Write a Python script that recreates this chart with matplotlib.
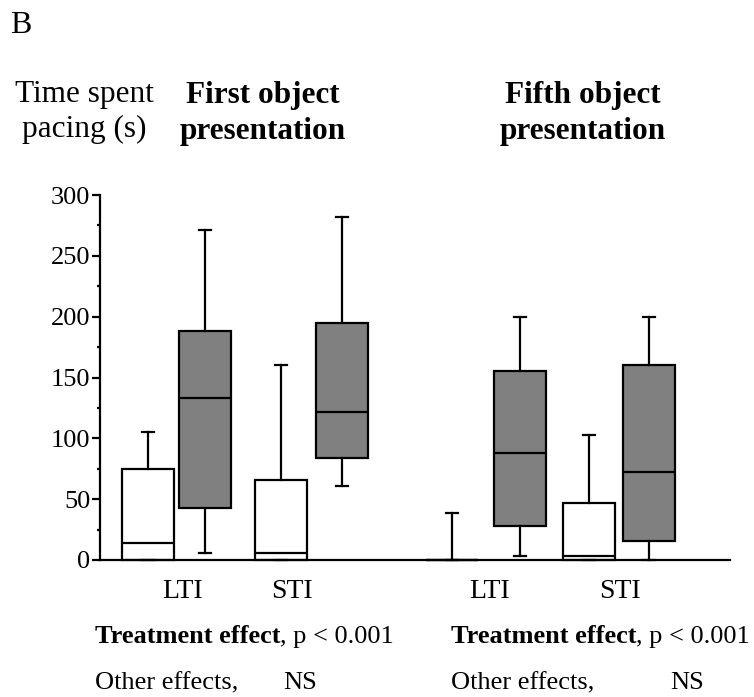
import matplotlib
matplotlib.use('Agg')
import matplotlib.pyplot as plt
from matplotlib.ticker import MultipleLocator

plt.rcParams['font.family'] = ['Liberation Serif', 'DejaVu Serif']

# --------------------------------------------------------
# Data: time spent pacing (s)
# order: first LTI open/filled, first STI open/filled,
#        fifth LTI open/filled, fifth STI open/filled
# --------------------------------------------------------
q1 = [0, 43, 0, 84, 0, 28, 0, 16]
med = [14, 133, 6, 122, 0, 88, 3, 72]
q3 = [75, 188, 66, 195, 0, 155, 47, 160]
whislo = [0, 6, 0, 61, 0, 3, 0, 0]
whishi = [105, 271, 160, 282, 39, 200, 103, 200]
fills = ['white', '#808080'] * 4

group_labels = ['LTI', 'STI', 'LTI', 'STI']
titles = ['First object\npresentation', 'Fifth object\npresentation']

# layout (box centres in box-width units)
positions = [0.92, 2.02, 3.48, 4.65, 6.77, 8.08, 9.40, 10.56]
label_pos = [1.58, 3.69, 7.50, 10.00]

W, H = 754, 697
fig = plt.figure(figsize=(W / 100, H / 100), dpi=100)
ax = fig.add_axes([100 / W, 1 - 560 / H, 630 / W, 365 / H])

stats = []
for i in range(len(med)):
    stats.append(dict(q1=q1[i], med=med[i], q3=q3[i],
                      whislo=whislo[i], whishi=whishi[i]))

lw = 1.6
bp = ax.bxp(stats, positions=positions, widths=1.0, patch_artist=True,
            showfliers=False, capwidths=0.22,
            boxprops=dict(linewidth=lw, edgecolor='black'),
            medianprops=dict(linewidth=lw, color='black'),
            whiskerprops=dict(linewidth=lw, color='black'),
            capprops=dict(linewidth=lw, color='black'))
for patch, c in zip(bp['boxes'], fills):
    patch.set_facecolor(c)
for art in bp['boxes'] + bp['medians'] + bp['whiskers'] + bp['caps']:
    art.set_clip_on(False)

ax.set_xlim(0, 630 / 52)
ax.set_ylim(0, 300)
for s in ['top', 'right']:
    ax.spines[s].set_visible(False)
ax.spines['left'].set_linewidth(lw)
ax.spines['bottom'].set_linewidth(lw)

ax.yaxis.set_major_locator(MultipleLocator(50))
ax.yaxis.set_minor_locator(MultipleLocator(25))
ax.tick_params(axis='y', which='major', length=6, width=lw, pad=1, labelsize=19)
ax.tick_params(axis='y', which='minor', length=2.5, width=lw)
ax.set_xticks(label_pos)
ax.set_xticklabels(group_labels)
ax.tick_params(axis='x', length=0, pad=14, labelsize=20)


def px(x, y):
    return x / W, 1 - y / H


fig.text(*px(10, 33), 'B', fontsize=23, va='baseline')
fig.text(*px(84, 102), 'Time spent', fontsize=22.5, ha='center', va='baseline')
fig.text(*px(84, 137), 'pacing (s)', fontsize=22.5, ha='center', va='baseline')
for cx, t in zip([263, 583], titles):
    l1, l2 = t.split('\n')
    fig.text(*px(cx, 103), l1, fontsize=22.5, fontweight='bold', ha='center', va='baseline')
    fig.text(*px(cx, 139), l2, fontsize=22.5, fontweight='bold', ha='center', va='baseline')

fig.canvas.draw()
renderer = fig.canvas.get_renderer()
for x0, xns in [(95, 283), (451, 670)]:
    t = fig.text(*px(x0, 643), 'Treatment effect', fontsize=19,
                 fontweight='bold', va='baseline')
    ext = t.get_window_extent(renderer)
    fig.text(ext.x1 / W, 1 - 643 / H, ', p < 0.001', fontsize=19, va='baseline')
    fig.text(*px(x0, 689), 'Other effects,', fontsize=19, va='baseline')
    fig.text(*px(xns, 689), 'NS', fontsize=19, va='baseline')

fig.savefig('out.png', dpi=100)
